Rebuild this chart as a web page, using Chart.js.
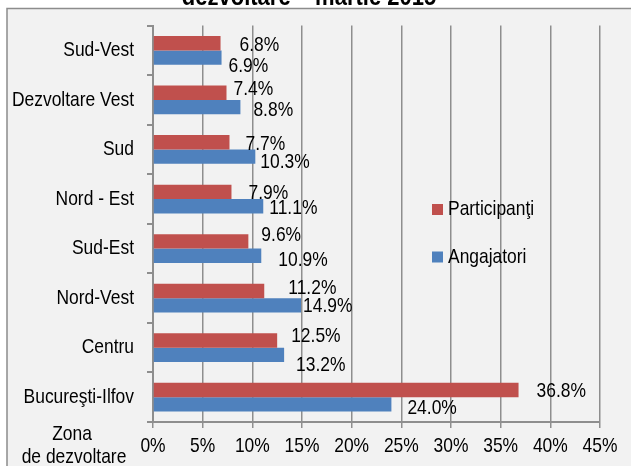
<!DOCTYPE html>
<html>
<head>
<meta charset="utf-8">
<script src="https://cdn.jsdelivr.net/npm/chart.js@4.4.1/dist/chart.umd.min.js"></script>
<style>
  html, body { margin: 0; padding: 0; background: #ffffff; }
  #wrap { width: 631px; height: 466px; position: relative; }
</style>
</head>
<body>
<div id="wrap"><canvas id="c"></canvas></div>
<script>
// ---- data ----
const categories = ['Sud-Vest', 'Dezvoltare Vest', 'Sud', 'Nord - Est', 'Sud-Est', 'Nord-Vest', 'Centru', 'Bucureşti-Ilfov'];
const participanti = [6.8, 7.4, 7.7, 7.9, 9.6, 11.2, 12.5, 36.8];
const angajatori = [6.9, 8.8, 10.3, 11.1, 10.9, 14.9, 13.2, 24.0];
const seriesNames = ['Participanţi', 'Angajatori'];
const xTicks = [0, 5, 10, 15, 20, 25, 30, 35, 40, 45];
const titleText = 'dezvoltare – martie 2015';
const axisTitleLines = ['Zona', 'de dezvoltare'];

// label placement (relative to bar end / bar centre), like manually moved Excel labels
const participantiLabelShift = [[19, 2], [7, -4], [16, 2], [17, 1], [13, -6], [24, -3], [14, -4], [18, 1]];
const angajatoriLabelShift = [[7, 9], [13, 3], [5, 6], [6, 2], [17, 4], [2, 1], [12, 10], [16, 4]];

const FONT = '"Liberation Sans", Arial, sans-serif';
const NARROW = 0.83; // emulate a narrow face (no condensed font installed)
const RED = '#C0504D';
const BLUE = '#4F81BD';
const GRID = '#8e8e8e';

const narrowTextPlugin = {
  id: 'narrowText',
  beforeInit(chart) {
    const ctx = chart.ctx;
    const orig = ctx.fillText.bind(ctx);
    ctx.fillText = function (t, x, y) {
      this.save();
      this.translate(x, y);
      this.scale(NARROW, 1);
      orig(t, 0, 0);
      this.restore();
    };
  }
};

const framePlugin = {
  id: 'frame',
  beforeDraw(chart) {
    const ctx = chart.ctx;
    ctx.save();
    ctx.fillStyle = '#ffffff';
    ctx.fillRect(0, 0, chart.width, chart.height);
    ctx.fillStyle = '#f2f2f2';
    ctx.fillRect(7, 9, chart.width, chart.height);
    ctx.strokeStyle = '#8c8c8c';
    ctx.lineWidth = 1.5;
    ctx.beginPath();
    ctx.moveTo(7, chart.height + 5);
    ctx.lineTo(7, 8.5);
    ctx.lineTo(chart.width + 5, 8.5);
    ctx.stroke();
    // clipped title
    ctx.fillStyle = '#000';
    ctx.font = 'bold 26.5px ' + FONT;
    ctx.textAlign = 'center';
    ctx.textBaseline = 'alphabetic';
    ctx.fillText(titleText, 309, 5);
    ctx.restore();
  },
  afterDatasetsDraw(chart) {
    const ctx = chart.ctx;
    ctx.save();
    ctx.font = '21px ' + FONT;
    ctx.fillStyle = '#000';
    ctx.textAlign = 'left';
    ctx.textBaseline = 'middle';
    const shifts = [participantiLabelShift, angajatoriLabelShift];
    chart.data.datasets.forEach((ds, di) => {
      const meta = chart.getDatasetMeta(di);
      meta.data.forEach((bar, i) => {
        const s = shifts[di][i];
        ctx.fillText(ds.data[i].toFixed(1) + '%', bar.x + s[0], bar.y + s[1]);
      });
    });
    // legend
    const colors = [RED, BLUE];
    const ly = [209.5, 257];
    seriesNames.forEach((n, i) => {
      ctx.fillStyle = colors[i];
      ctx.fillRect(432, ly[i] - 5.5, 11, 11);
      ctx.fillStyle = '#000';
      ctx.fillText(n, 448, ly[i]);
    });
    // axis title at bottom-left
    ctx.textAlign = 'center';
    ctx.fillText(axisTitleLines[0], 72, 434);
    ctx.fillText(axisTitleLines[1], 74, 457);
    ctx.restore();
  }
};

new Chart(document.getElementById('c'), {
  type: 'bar',
  data: {
    labels: categories,
    datasets: [
      { label: seriesNames[0], data: participanti, backgroundColor: RED, categoryPercentage: 0.58, barPercentage: 1.0 },
      { label: seriesNames[1], data: angajatori, backgroundColor: BLUE, categoryPercentage: 0.58, barPercentage: 1.0 }
    ]
  },
  options: {
    indexAxis: 'y',
    responsive: true,
    maintainAspectRatio: false,
    animation: false,
    layout: { padding: { top: 23, right: 31, bottom: 0, left: 0 } },
    plugins: { legend: { display: false }, title: { display: false }, tooltip: { enabled: false } },
    scales: {
      x: {
        type: 'linear',
        min: 0, max: 45,
        afterBuildTicks(scale) { scale.ticks = xTicks.map(v => ({ value: v })); },
        ticks: {
          callback: v => v + '%',
          font: { family: FONT, size: 21 },
          color: '#000',
          padding: 6,
          maxRotation: 0, autoSkip: false
        },
        grid: { color: GRID, lineWidth: 1.5, drawTicks: true, tickLength: 6 },
        border: { display: true, color: GRID, width: 2 },
        afterFit(scale) { scale.height = 44; }
      },
      y: {
        ticks: {
          font: { family: FONT, size: 21 },
          color: '#000',
          padding: 13,
          autoSkip: false
        },
        grid: { drawOnChartArea: false, drawTicks: true, tickLength: 6, color: GRID, lineWidth: 2, offset: true },
        border: { display: true, color: GRID, width: 2 },
        afterFit(scale) { scale.width = 153; }
      }
    }
  },
  plugins: [narrowTextPlugin, framePlugin]
});
</script>
</body>
</html>
